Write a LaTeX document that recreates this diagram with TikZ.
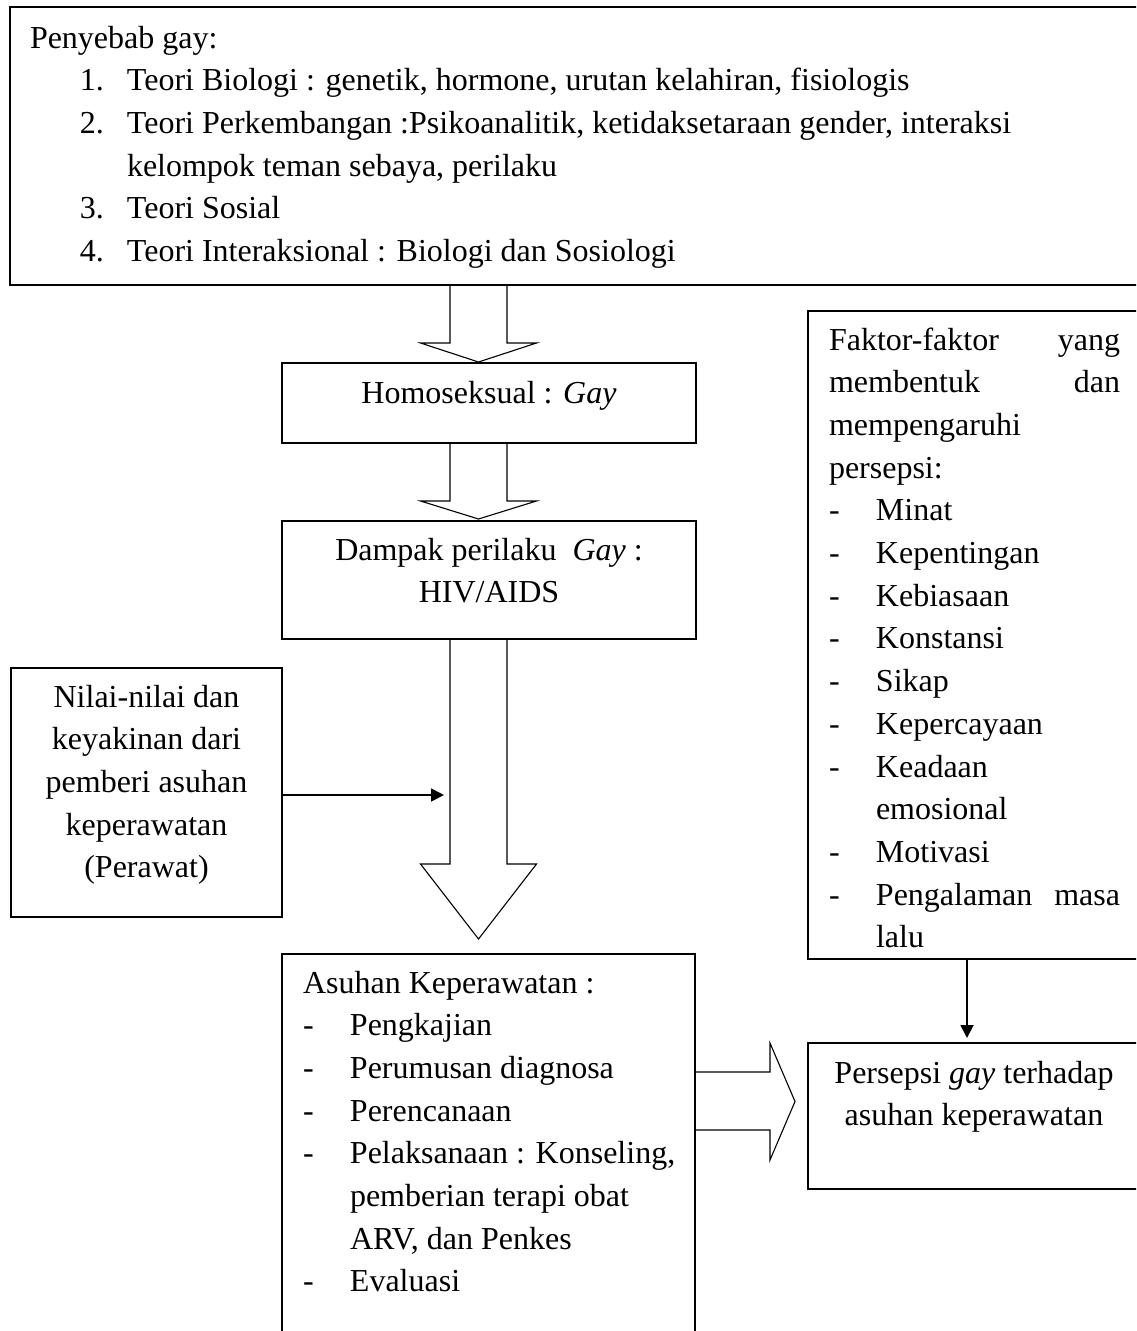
\documentclass[tikz,border=0pt]{standalone}
\usepackage{fontspec}
\setmainfont{Liberation Serif}
\usetikzlibrary{arrows.meta,calc}
\newcommand\bodyfont{\fontsize{32}{42.7}\selectfont}
\newcommand\ditem[1]{\makebox[47pt][l]{-}#1}
\newcommand\nitem[2]{\hspace*{50pt}\makebox[47pt][l]{#1}#2}
% hollow downward arrow: centre x, start y, head start y, tip y
\newcommand\hollowdown[4]{%
  \draw[hollowline] (#1-28.5,#2) -- (#1-28.5,#3) -- (#1-58,#3) -- (#1,#4)
    -- (#1+58,#3) -- (#1+28.5,#3) -- (#1+28.5,#2);}
\begin{document}
\begin{tikzpicture}[x=1pt,y=-1pt,
  box/.style={draw,line width=1.4pt,rectangle,anchor=north west,inner sep=0pt,outer sep=0pt},
  txt/.style={anchor=base west,inner sep=0pt,outer sep=0pt,font=\bodyfont},
  ctxt/.style={anchor=base,inner sep=0pt,outer sep=0pt,font=\bodyfont},
  hollowline/.style={draw,line width=1.1pt,line join=miter},
  linkarrow/.style={draw,line width=1.8pt,-{Triangle[length=13pt,width=13pt]},shorten >=5pt}]
\useasboundingbox (0,0) rectangle (1136,1331);
\clip (0,0) rectangle (1136,1331);
\fill[white] (0,0) rectangle (1136,1331);

% boxes
\node[box,line width=2.2pt,minimum width=1150pt,minimum height=278pt] (causes) at (10,7) {};
\node[box,minimum width=414pt,minimum height=80pt] (homo) at (282,363) {};
\node[box,minimum width=414pt,minimum height=118pt] (impact) at (282,521) {};
\node[box,minimum width=271pt,minimum height=249pt] (values) at (11,668) {};
\node[box,minimum width=413pt,minimum height=400pt] (care) at (282,954) {};
\node[box,minimum width=342pt,minimum height=648pt] (factors) at (808,311) {};
\node[box,minimum width=342pt,minimum height=146pt] (percep) at (808,1043) {};

% texts
\node[txt] (causestext) at (30,48) {\parbox[t]{1050pt}{\bodyfont
  Penyebab gay:\\
  \nitem{1.}{Teori Biologi : genetik, hormone, urutan kelahiran, fisiologis}\\
  \nitem{2.}{Teori Perkembangan :Psikoanalitik, ketidaksetaraan gender, interaksi}\\
  \hspace*{97pt}kelompok teman sebaya, perilaku\\
  \nitem{3.}{Teori Sosial}\\
  \nitem{4.}{Teori Interaksional : Biologi dan Sosiologi}}};

\node[ctxt] (homotext) at (489,403) {Homoseksual : \textit{Gay}};
\node[ctxt] (impacttext) at (489,560) {\parbox[t]{400pt}{\bodyfont\centering
  Dampak perilaku\ \ \textit{Gay} :\\ HIV/AIDS}};
\node[ctxt] (valuestext) at (146.5,707) {\parbox[t]{265pt}{\bodyfont\centering
  Nilai-nilai dan\\ keyakinan dari\\ pemberi asuhan\\ keperawatan\\ (Perawat)}};
\node[txt] (caretext) at (303,993) {\parbox[t]{390pt}{\bodyfont
  Asuhan Keperawatan :\\
  \ditem{Pengkajian}\\
  \ditem{Perumusan diagnosa}\\
  \ditem{Perencanaan}\\
  \ditem{Pelaksanaan : Konseling,}\\
  \hspace*{47pt}pemberian terapi obat\\
  \hspace*{47pt}ARV, dan Penkes\\
  \ditem{Evaluasi}}};
\node[txt] (factorstext) at (829,350) {\parbox[t]{291pt}{\bodyfont
  Faktor-faktor\hfill yang\\
  membentuk\hfill dan\\
  mempengaruhi\\
  persepsi:\\
  \ditem{Minat}\\
  \ditem{Kepentingan}\\
  \ditem{Kebiasaan}\\
  \ditem{Konstansi}\\
  \ditem{Sikap}\\
  \ditem{Kepercayaan}\\
  \ditem{Keadaan}\\
  \hspace*{47pt}emosional\\
  \ditem{Motivasi}\\
  \ditem{Pengalaman\hfill masa}\\
  \hspace*{47pt}lalu}};
\node[ctxt] (perceptext) at (974,1083) {\parbox[t]{330pt}{\bodyfont\centering
  Persepsi \textit{gay} terhadap\\ asuhan keperawatan}};

% hollow arrows between the main chain of boxes
\hollowdown{478.5}{285}{343}{362}
\hollowdown{478.5}{443}{501}{519}
\hollowdown{478.5}{639}{864}{939}
\draw[hollowline] (care.east |- 0,1072) -- (770,1072) -- (770,1043) -- (795,1101.5)
  -- (770,1160) -- (770,1130) -- (care.east |- 0,1130);

% thin arrows
\coordinate (shaftL) at (449,795);
\draw[linkarrow] (values.east |- shaftL) -- (shaftL);
\coordinate (fp) at (967,0);
\draw[linkarrow] (factors.south -| fp) -- (percep.north -| fp);
\end{tikzpicture}
\end{document}
